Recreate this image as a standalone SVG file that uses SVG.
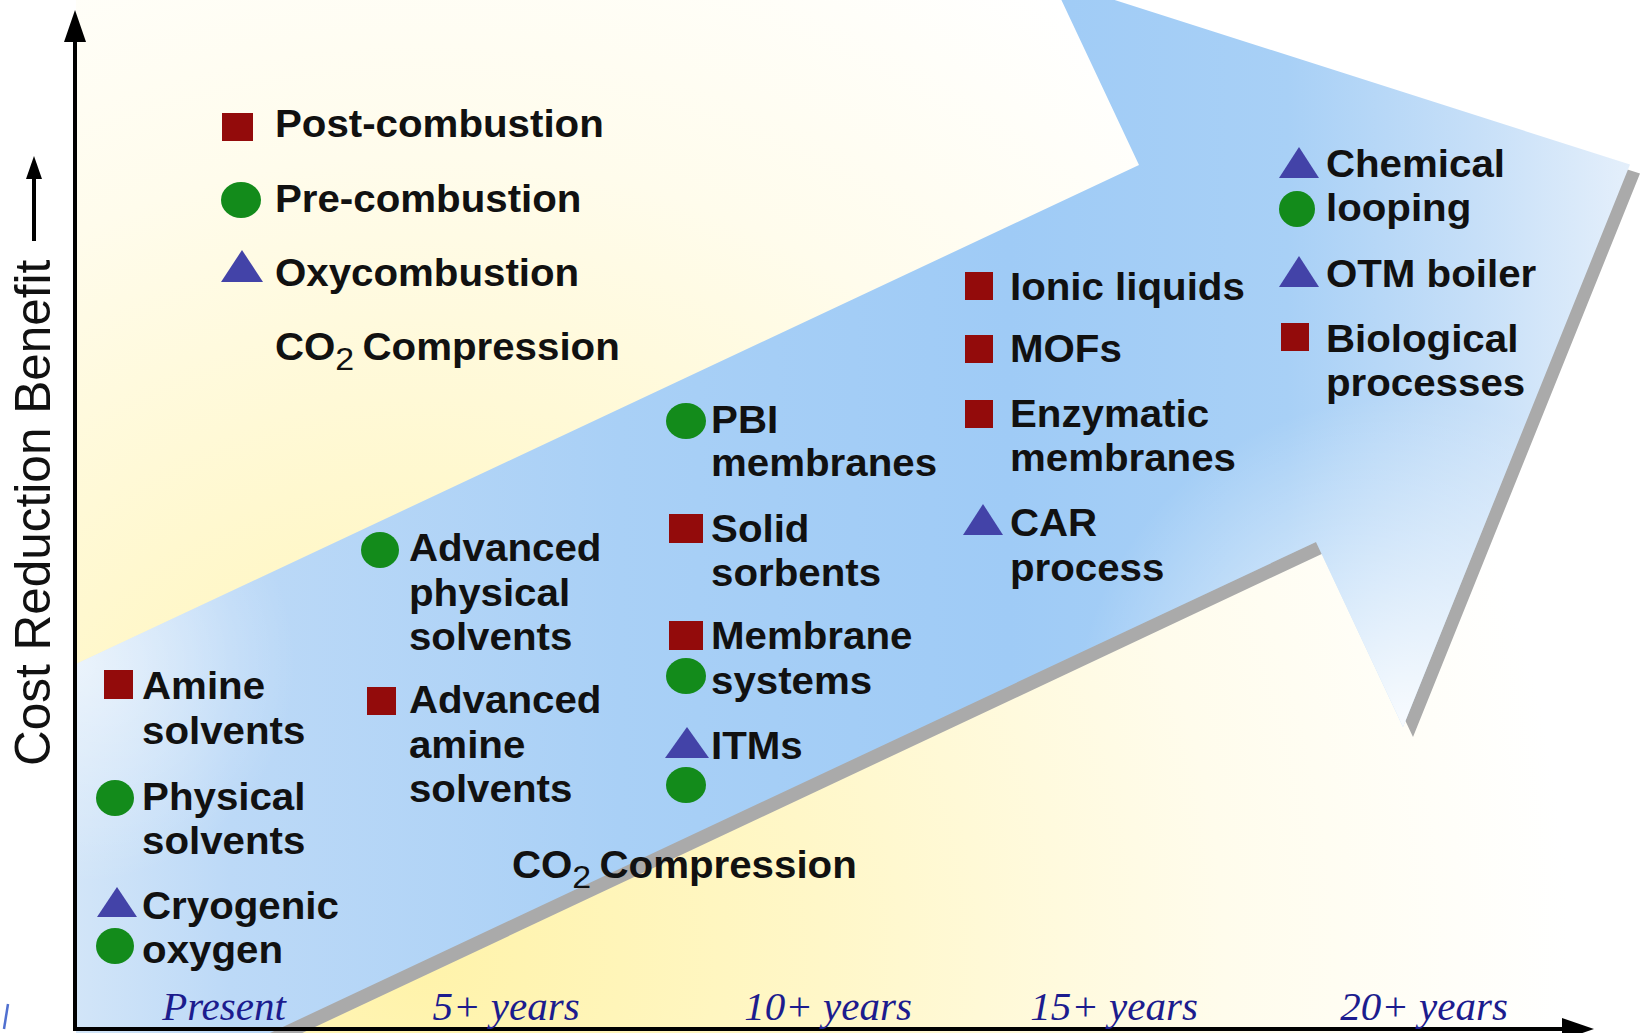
<svg xmlns="http://www.w3.org/2000/svg" width="1646" height="1033" viewBox="0 0 1646 1033">
<defs>
<style>
.lbl{font-family:"Liberation Sans",Arial,sans-serif;font-weight:bold;font-size:38px;fill:#111}
.sub{font-weight:normal;font-size:32px}
.yr{font-family:"Liberation Serif","Times New Roman",serif;font-style:italic;font-size:41px;fill:#1C1C8E;text-anchor:middle}
.ylab{font-family:"Liberation Sans",Arial,sans-serif;font-size:49.5px;fill:#111}
.sq{fill:#930B0B}
.ci{fill:#138B1B}
.tr{fill:#4343A8}
.axis{stroke:#000;stroke-width:4;fill:none}
</style>
<radialGradient id="bg" gradientUnits="userSpaceOnUse" cx="420" cy="960" r="1150">
<stop offset="0" stop-color="#FFF3AA"/>
<stop offset="0.35" stop-color="#FFF7C8"/>
<stop offset="0.7" stop-color="#FFFCEC"/>
<stop offset="1" stop-color="#FFFFFF"/>
</radialGradient>
<linearGradient id="blue" gradientUnits="userSpaceOnUse" x1="76" y1="0" x2="1630" y2="0">
<stop offset="0" stop-color="#D2E5F8"/>
<stop offset="0.1" stop-color="#BCD9F7"/>
<stop offset="0.35" stop-color="#A9D0F6"/>
<stop offset="0.6" stop-color="#9FCBF6"/>
<stop offset="0.78" stop-color="#A8D0F6"/>
<stop offset="0.9" stop-color="#C6DFF8"/>
<stop offset="1" stop-color="#E4EFFB"/>
</linearGradient>
<radialGradient id="hl1" gradientUnits="userSpaceOnUse" cx="1403" cy="727" r="330">
<stop offset="0" stop-color="#FFFFFF" stop-opacity="0.9"/>
<stop offset="0.6" stop-color="#FFFFFF" stop-opacity="0.35"/>
<stop offset="1" stop-color="#FFFFFF" stop-opacity="0"/>
</radialGradient>
<radialGradient id="hl2" gradientUnits="userSpaceOnUse" cx="76" cy="664" r="220">
<stop offset="0" stop-color="#FFFFFF" stop-opacity="0.55"/>
<stop offset="1" stop-color="#FFFFFF" stop-opacity="0"/>
</radialGradient>
</defs>

<rect x="0" y="0" width="1646" height="1033" fill="#FFFFFF"/>
<rect x="76" y="0" width="1570" height="1033" fill="url(#bg)"/>

<g id="arrow">
<polygon points="86,673 1149,174 1062,-11 1640,173.5 1413,737 1326,552 281,1043 86,1043" fill="#AAAAAA"/>
<polygon points="76,664 1139,165 1052,-20 1630,164.5 1403,727 1316,542 270,1033 76,1033" fill="url(#blue)"/>
<polygon points="76,664 1139,165 1052,-20 1630,164.5 1403,727 1316,542 270,1033 76,1033" fill="url(#hl1)"/>
<polygon points="76,664 1139,165 1052,-20 1630,164.5 1403,727 1316,542 270,1033 76,1033" fill="url(#hl2)"/>
</g>

<g id="axes">
<line class="axis" x1="75" y1="38" x2="75" y2="1031"/>
<polygon points="75,10 64,42 86,42" fill="#000"/>
<line class="axis" x1="73" y1="1029" x2="1566" y2="1029"/>
<polygon points="1594,1029 1562,1018 1562,1040" fill="#000"/>
<text class="ylab" transform="translate(50,766) rotate(-90)">Cost Reduction Benefit</text>
<line x1="34" y1="241" x2="34" y2="176" stroke="#000" stroke-width="4"/>
<polygon points="34,156 26,179 42,179" fill="#000"/>
<line x1="8" y1="1004" x2="4" y2="1029" stroke="#5070D0" stroke-width="2.5"/>
</g>

<g id="timeline">
<text class="yr" x="224" y="1020">Present</text>
<text class="yr" x="506" y="1020">5+ years</text>
<text class="yr" x="828" y="1020">10+ years</text>
<text class="yr" x="1114" y="1020">15+ years</text>
<text class="yr" x="1424" y="1020">20+ years</text>
</g>

<g id="legend">
<rect class="sq" x="222" y="113" width="31" height="28"/>
<ellipse class="ci" cx="241" cy="200" rx="20" ry="18"/>
<polygon class="tr" points="221,282 242,250 263,282"/>
</g>

<g id="markers-present">
<rect class="sq" x="104" y="670" width="29" height="29"/>
<ellipse class="ci" cx="115" cy="798" rx="19" ry="18"/>
<polygon class="tr" points="97,917 117,887 137,917"/>
<ellipse class="ci" cx="115" cy="946" rx="19" ry="18"/>
</g>

<g id="markers-5">
<ellipse class="ci" cx="380" cy="550" rx="19" ry="18"/>
<rect class="sq" x="367" y="687" width="29" height="28"/>
</g>

<g id="markers-10">
<ellipse class="ci" cx="686" cy="421" rx="20" ry="18"/>
<rect class="sq" x="669" y="514" width="34" height="29"/>
<rect class="sq" x="669" y="621" width="34" height="29"/>
<ellipse class="ci" cx="686" cy="676" rx="20" ry="18"/>
<polygon class="tr" points="665,758 687,727 709,758"/>
<ellipse class="ci" cx="686" cy="785" rx="20" ry="18"/>
</g>

<g id="markers-15">
<rect class="sq" x="965" y="272" width="28" height="28"/>
<rect class="sq" x="965" y="335" width="28" height="28"/>
<rect class="sq" x="965" y="400" width="28" height="28"/>
<polygon class="tr" points="963,535 983,504 1003,535"/>
</g>

<g id="markers-20">
<polygon class="tr" points="1279,178 1299,147 1319,178"/>
<ellipse class="ci" cx="1297" cy="209" rx="18" ry="18"/>
<polygon class="tr" points="1279,287 1299,256 1319,287"/>
<rect class="sq" x="1281" y="323" width="28" height="28"/>
</g>

<g id="labels" transform="scale(1.06,1)">
<text class="lbl" x="259.4" y="137">Post-combustion</text>
<text class="lbl" x="259.4" y="212">Pre-combustion</text>
<text class="lbl" x="259.4" y="286">Oxycombustion</text>
<text class="lbl" x="259.4" y="360">CO<tspan class="sub" dy="10">2</tspan><tspan dy="-10" font-size="28"> </tspan>Compression</text>

<text class="lbl" x="134" y="699">Amine</text>
<text class="lbl" x="134" y="744">solvents</text>
<text class="lbl" x="134" y="810">Physical</text>
<text class="lbl" x="134" y="854">solvents</text>
<text class="lbl" x="134" y="919">Cryogenic</text>
<text class="lbl" x="134" y="963">oxygen</text>

<text class="lbl" x="385.8" y="561">Advanced</text>
<text class="lbl" x="385.8" y="606">physical</text>
<text class="lbl" x="385.8" y="650">solvents</text>
<text class="lbl" x="385.8" y="713">Advanced</text>
<text class="lbl" x="385.8" y="758">amine</text>
<text class="lbl" x="385.8" y="802">solvents</text>

<text class="lbl" x="670.8" y="433">PBI</text>
<text class="lbl" x="670.8" y="476">membranes</text>
<text class="lbl" x="670.8" y="542">Solid</text>
<text class="lbl" x="670.8" y="586">sorbents</text>
<text class="lbl" x="670.8" y="649">Membrane</text>
<text class="lbl" x="670.8" y="694">systems</text>
<text class="lbl" x="670.8" y="759">ITMs</text>

<text class="lbl" x="952.8" y="300">Ionic liquids</text>
<text class="lbl" x="952.8" y="362">MOFs</text>
<text class="lbl" x="952.8" y="427">Enzymatic</text>
<text class="lbl" x="952.8" y="471">membranes</text>
<text class="lbl" x="952.8" y="536">CAR</text>
<text class="lbl" x="952.8" y="581">process</text>

<text class="lbl" x="1250.9" y="177">Chemical</text>
<text class="lbl" x="1250.9" y="221">looping</text>
<text class="lbl" x="1250.9" y="287">OTM boiler</text>
<text class="lbl" x="1250.9" y="352">Biological</text>
<text class="lbl" x="1250.9" y="396">processes</text>

<text class="lbl" x="483" y="878">CO<tspan class="sub" dy="10">2</tspan><tspan dy="-10" font-size="28"> </tspan>Compression</text>
</g>
</svg>
